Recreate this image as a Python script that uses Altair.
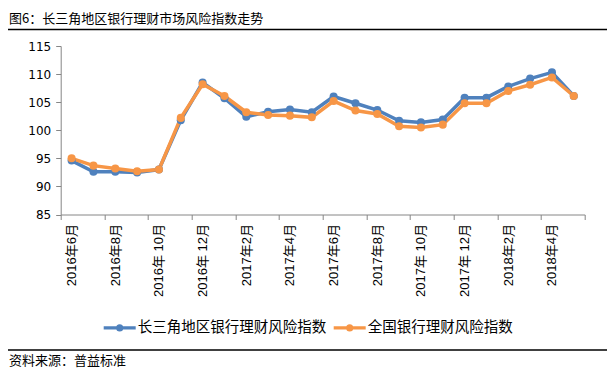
import json
import altair as alt
import pandas as pd

# ---------------- data ----------------
months = [
    "2016年6月", "2016年7月", "2016年8月", "2016年9月", "2016年 10月", "2016年 11月", "2016年 12月",
    "2017年1月", "2017年2月", "2017年3月", "2017年4月", "2017年5月", "2017年6月", "2017年7月",
    "2017年8月", "2017年9月", "2017年 10月", "2017年 11月", "2017年 12月",
    "2018年1月", "2018年2月", "2018年3月", "2018年4月", "2018年5月",
]
yrd_index = [94.6, 92.6, 92.6, 92.5, 93.0, 101.8, 108.5, 105.7, 102.4, 103.3, 103.7, 103.2,
             106.0, 104.8, 103.6, 101.7, 101.4, 101.9, 105.8, 105.8, 107.8, 109.2, 110.3, 106.1]
national_index = [95.0, 93.7, 93.2, 92.7, 93.0, 102.2, 108.2, 106.1, 103.2, 102.7, 102.6, 102.3,
                  105.2, 103.5, 102.9, 100.7, 100.5, 101.0, 104.8, 104.8, 107.0, 108.1, 109.4, 106.1]
series_names = ["长三角地区银行理财风险指数", "全国银行理财风险指数"]
series_colors = ["#4F81BD", "#F79646"]
y_ticks = [85, 90, 95, 100, 105, 110, 115]
title_text = "图6：长三角地区银行理财市场风险指数走势"
source_text = "资料来源：普益标准"

rows = []
for s, vals in zip(series_names, [yrd_index, national_index]):
    for i, v in enumerate(vals):
        rows.append({"idx": i, "month": months[i], "value": v, "series": s})
df = pd.DataFrame(rows)

# ---------------- layout (plot area origin = page (60.7, 46)) ----------------
W, H = 524, 168.5
band = W / len(months)
tick_vals = [i - 0.5 for i in range(0, len(months) + 1, 2)]
label_expr = json.dumps(months, ensure_ascii=False) + "[round(datum.value + 0.5)] || ''"

CJK = "Noto Sans CJK SC"
GREY = "#868686"

x_enc = alt.X(
    "idx:Q",
    scale=alt.Scale(domain=[-0.5, len(months) - 0.5], nice=False, zero=False),
    axis=alt.Axis(
        values=tick_vals, labelExpr=label_expr, labelAngle=270, labelAlign="right",
        labelBaseline="middle", labelOffset=band / 2, labelPadding=4, tickSize=5,
        tickColor=GREY, domainColor=GREY, labelFont="Liberation Sans, " + CJK,
        labelFontSize=13, labelColor="black", title=None, grid=False,
        labelOverlap=False, labelFlush=False,
    ),
)
y_enc = alt.Y(
    "value:Q",
    scale=alt.Scale(domain=[85, 115], nice=False, zero=False),
    axis=alt.Axis(
        values=y_ticks, tickSize=5, labelPadding=5, tickColor=GREY, domainColor=GREY,
        labelFont="DejaVu Sans", labelFontSize=12, labelColor="black", title=None, grid=False,
        labelOverlap=False, labelFlush=False,
    ),
)
color_scale = alt.Scale(domain=series_names, range=series_colors)
legend_path = "M-1,0H1M-0.12,0A0.12,0.12 0 1,0 0.12,0A0.12,0.12 0 1,0 -0.12,0Z"

lines = alt.Chart(df).mark_line(strokeWidth=3.5).encode(
    x=x_enc, y=y_enc,
    color=alt.Color(
        "series:N", scale=color_scale, sort=series_names,
        legend=alt.Legend(
            orient="none", legendX=41, legendY=263.7, direction="horizontal", title=None,
            symbolType=legend_path, symbolSize=1024, symbolStrokeWidth=3.3,
            labelFont=CJK, labelFontSize=14.5, labelColor="black", labelOffset=0,
            columnPadding=0, labelLimit=400, padding=0,
        ),
    ),
    detail="series:N",
)
points = alt.Chart(df).mark_circle(size=65, opacity=1).encode(
    x=x_enc, y=y_enc,
    color=alt.Color("series:N", scale=color_scale, legend=None),
)

one = pd.DataFrame({"t": [title_text], "s": [source_text]})
title_txt = alt.Chart(one).mark_text(
    align="left", baseline="middle", font=CJK, fontSize=13, color="black"
).encode(x=alt.value(-51.7), y=alt.value(-27.5), text="t:N")
title_rule = alt.Chart(one).mark_rule(color="black", strokeWidth=1.5).encode(
    x=alt.value(-60.7), x2=alt.value(549.3), y=alt.value(-16.5))
src_rule = alt.Chart(one).mark_rule(color="black", strokeWidth=1.5).encode(
    x=alt.value(-60.7), x2=alt.value(549.3), y=alt.value(304))
src_txt = alt.Chart(one).mark_text(
    align="left", baseline="middle", font=CJK, fontSize=13, color="black"
).encode(x=alt.value(-51.7), y=alt.value(315), text="s:N")

chart = alt.layer(lines, points, title_txt, title_rule, src_rule, src_txt).properties(
    width=W, height=H,
    padding={"left": 52.7, "top": 38, "right": 22.3, "bottom": 155.5},
    autosize=alt.AutoSizeParams(type="none"),
).configure_view(stroke=None)

chart.save("out.html", embed_options={"renderer": "svg", "actions": False})
